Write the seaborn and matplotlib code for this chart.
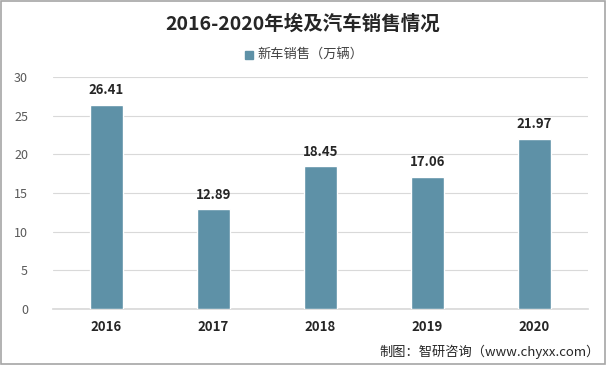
import pandas as pd
import seaborn as sns
import matplotlib.pyplot as plt
from matplotlib.patches import Rectangle

years = ["2016", "2017", "2018", "2019", "2020"]
sales = [26.41, 12.89, 18.45, 17.06, 21.97]
series_name = "新车销售（万辆）"
title = "2016-2020年埃及汽车销售情况"
source = "制图：智研咨询（www.chyxx.com）"

bar_color = "#5E91A7"

sns.set_theme(style="white")
plt.rcParams['font.family'] = ['Noto Sans CJK SC', 'DejaVu Sans']

df = pd.DataFrame({"year": years, "sales": sales})

fig = plt.figure(figsize=(6.06, 3.65), dpi=100)
ax = fig.add_axes([0.0875, 0.1534, 0.8825, 0.6356])

sns.barplot(data=df, x="year", y="sales", color=bar_color, width=0.31,
            saturation=1, ax=ax, zorder=3)

ax.set_ylim(0, 30)
ax.set_yticks(range(0, 31, 5))
ax.yaxis.grid(True, color="#D9D9D9", linewidth=0.8, zorder=0)
for s in ax.spines.values():
    s.set_visible(False)
ax.spines["bottom"].set_visible(True)
ax.spines["bottom"].set_color("#D9D9D9")
ax.tick_params(axis="y", colors="#595959", labelsize=9, length=0, pad=18)
ax.tick_params(axis="x", colors="#262626", labelsize=9.5, length=0, pad=8)
for lbl in ax.get_xticklabels():
    lbl.set_fontweight("bold")
ax.set_xlabel("")
ax.set_ylabel("")

for p, v in zip(ax.patches, sales):
    ax.text(p.get_x() + p.get_width() / 2, v + 1.0, f"{v:.2f}",
            ha="center", va="bottom", fontsize=9.5, fontweight="bold",
            color="#262626")

fig.text(0.5, 0.935, title, ha="center", va="center", fontsize=14,
         fontweight="bold", color="#262626")

# legend
fig.patches.append(Rectangle((0.405, 0.838), 0.013, 0.022,
                             transform=fig.transFigure, color=bar_color))
fig.text(0.425, 0.849, series_name, ha="left", va="center", fontsize=9.5,
         color="#404040")

fig.text(0.99, 0.035, source, ha="right", va="center", fontsize=9.5,
         color="#262626")

fig.patches.append(Rectangle((0.001, 0.002), 0.997, 0.995,
                             transform=fig.transFigure, fill=False,
                             edgecolor="#A6A6A6", linewidth=1.2))

fig.savefig("out.png", dpi=100)
